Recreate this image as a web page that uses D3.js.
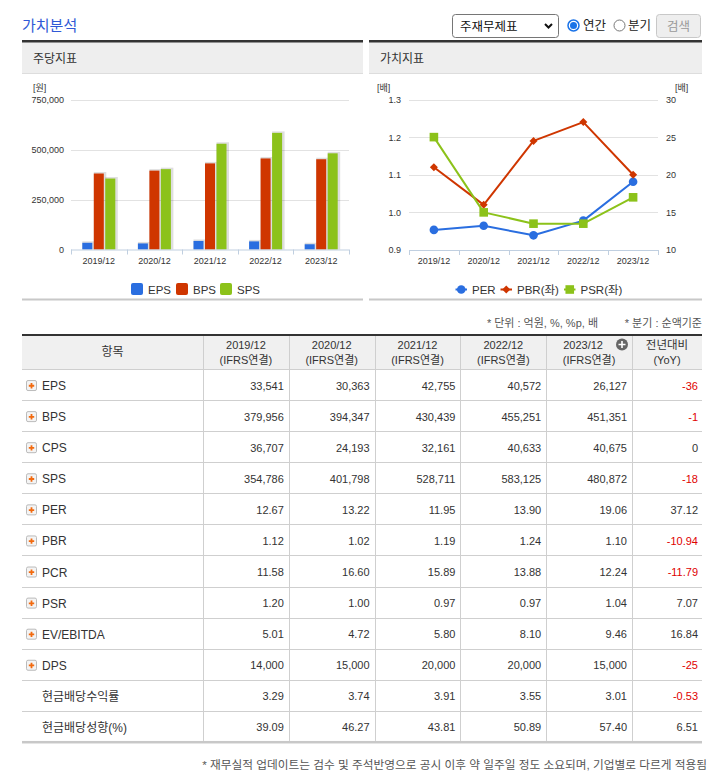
<!DOCTYPE html>
<meta charset="utf-8">
<style>
body { margin: 0; background: #fff; }
svg text { font-family: "Liberation Sans", "Noto Sans CJK KR", sans-serif; }
</style>
<body id="page"></body>
<script src="https://cdn.jsdelivr.net/npm/d3@7"></script>
<script>
// data
var years = ["2019/12", "2020/12", "2021/12", "2022/12", "2023/12"];
var eps = [33541, 30363, 42755, 40572, 26127];
var bps = [379956, 394347, 430439, 455251, 451351];
var sps = [354786, 401798, 528711, 583125, 480872];
var per = [12.67, 13.22, 11.95, 13.90, 19.06];
var pbr = [1.12, 1.02, 1.19, 1.24, 1.10];
var psr = [1.20, 1.00, 0.97, 0.97, 1.04];

var barTicks = [0, 250000, 500000, 750000];
var leftTicks = [0.9, 1.0, 1.1, 1.2, 1.3];
var rightTicks = [10, 15, 20, 25, 30];

var rowLabels = ["EPS", "BPS", "CPS", "SPS", "PER", "PBR", "PCR", "PSR", "EV/EBITDA", "DPS", "현금배당수익률", "현금배당성향(%)"];
var rowIcon = [1, 1, 1, 1, 1, 1, 1, 1, 1, 1, 0, 0];
var rowValues = [
  ["33,541", "30,363", "42,755", "40,572", "26,127"],
  ["379,956", "394,347", "430,439", "455,251", "451,351"],
  ["36,707", "24,193", "32,161", "40,633", "40,675"],
  ["354,786", "401,798", "528,711", "583,125", "480,872"],
  ["12.67", "13.22", "11.95", "13.90", "19.06"],
  ["1.12", "1.02", "1.19", "1.24", "1.10"],
  ["11.58", "16.60", "15.89", "13.88", "12.24"],
  ["1.20", "1.00", "0.97", "0.97", "1.04"],
  ["5.01", "4.72", "5.80", "8.10", "9.46"],
  ["14,000", "15,000", "20,000", "20,000", "15,000"],
  ["3.29", "3.74", "3.91", "3.55", "3.01"],
  ["39.09", "46.27", "43.81", "50.89", "57.40"]
];
var yoy = ["-36", "-1", "0", "-18", "37.12", "-10.94", "-11.79", "7.07", "16.84", "-25", "-0.53", "6.51"];

var blue = "#2a6ee0", red = "#cf3600", green = "#8cc21a";

var svg = d3.select("#page").append("svg")
    .attr("width", 710)
    .attr("height", 773);

// ---- page header ----
svg.append("text").attr("x", 22).attr("y", 31)
    .attr("font-size", 15).attr("fill", "#3059d6").text("가치분석");

svg.append("rect").attr("x", 452.5).attr("y", 14.5).attr("width", 106).attr("height", 23)
    .attr("rx", 3).attr("fill", "#fff").attr("stroke", "#767676");
svg.append("text").attr("x", 460).attr("y", 30.5).attr("font-size", 12.5).attr("fill", "#111").text("주재무제표");
svg.append("path").attr("d", "M545,24 l3.5,3.5 l3.5,-3.5").attr("fill", "none")
    .attr("stroke", "#111").attr("stroke-width", 2);

svg.append("circle").attr("cx", 573.5).attr("cy", 25.5).attr("r", 5.5)
    .attr("fill", "#fff").attr("stroke", "#1a73e8").attr("stroke-width", 1.5);
svg.append("circle").attr("cx", 573.5).attr("cy", 25.5).attr("r", 3.5).attr("fill", "#1a73e8");
svg.append("text").attr("x", 583).attr("y", 30).attr("font-size", 12.5).attr("fill", "#222").text("연간");
svg.append("circle").attr("cx", 619.5).attr("cy", 25.5).attr("r", 5.5)
    .attr("fill", "#fff").attr("stroke", "#777").attr("stroke-width", 1);
svg.append("text").attr("x", 628).attr("y", 30).attr("font-size", 12.5).attr("fill", "#222").text("분기");

svg.append("rect").attr("x", 656.5).attr("y", 14.5).attr("width", 44).attr("height", 23)
    .attr("rx", 3).attr("fill", "#eee").attr("stroke", "#c8c8c8");
svg.append("text").attr("x", 678.5).attr("y", 30.5).attr("text-anchor", "middle")
    .attr("font-size", 12.5).attr("fill", "#999").text("검색");

// ---- panels ----
var panels = [{x0: 22, x1: 363, title: "주당지표"}, {x0: 369, x1: 702, title: "가치지표"}];
panels.forEach(function (p) {
  svg.append("rect").attr("x", p.x0).attr("y", 42).attr("width", p.x1 - p.x0).attr("height", 31).attr("fill", "#eeeeee");
  svg.append("rect").attr("x", p.x0).attr("y", 40).attr("width", p.x1 - p.x0).attr("height", 2.5).attr("fill", "#333");
  svg.append("rect").attr("x", p.x0).attr("y", 73).attr("width", p.x1 - p.x0).attr("height", 1).attr("fill", "#ddd");
  svg.append("rect").attr("x", p.x0).attr("y", 298.5).attr("width", p.x1 - p.x0).attr("height", 2).attr("fill", "#c8c8c8");
  svg.append("text").attr("x", p.x0 + 11).attr("y", 62.5).attr("font-size", 12).attr("fill", "#333").text(p.title);
});

// ---- bar chart ----
var xb = d3.scaleBand().domain(years).range([71, 349]);
var yb = d3.scaleLinear().domain([0, 750000]).range([249.5, 99.5]);
var series = [{name: "EPS", vals: eps, color: blue}, {name: "BPS", vals: bps, color: red}, {name: "SPS", vals: sps, color: green}];
var xin = d3.scaleBand().domain(series.map(function (s) { return s.name; })).range([-16.5, 16.5]).paddingInner(0.13);

var gb = svg.append("g");
gb.append("g").selectAll("line").data(barTicks.slice(1)).enter().append("line")
    .attr("x1", 71).attr("x2", 349)
    .attr("y1", function (d) { return Math.round(yb(d)) + 0.5; })
    .attr("y2", function (d) { return Math.round(yb(d)) + 0.5; })
    .attr("stroke", "#e2e2e2");

var yAxisB = d3.axisLeft(yb).tickValues(barTicks).tickSize(0).tickPadding(0).tickFormat(d3.format(","));
gb.append("g").attr("transform", "translate(64,0)").call(yAxisB)
    .call(function (g) { g.select(".domain").remove(); })
    .selectAll("text").attr("font-size", 9).attr("fill", "#333");
gb.append("text").attr("x", 33).attr("y", 91).attr("font-size", 9).attr("fill", "#333").text("[원]");

series.forEach(function (s) {
  var g = gb.append("g");
  g.selectAll(".shadow").data(s.vals).enter().append("rect")
      .attr("x", function (d, i) { return xb(years[i]) + xb.bandwidth() / 2 + xin(s.name); })
      .attr("y", function (d) { return yb(d) - 1.5; })
      .attr("width", xin.bandwidth() + 2.5)
      .attr("height", function (d) { return yb(0) - yb(d) + 1.5; })
      .attr("fill", "#000").attr("opacity", 0.13);
  g.selectAll(".bar").data(s.vals).enter().append("rect")
      .attr("x", function (d, i) { return xb(years[i]) + xb.bandwidth() / 2 + xin(s.name); })
      .attr("y", function (d) { return yb(d); })
      .attr("width", xin.bandwidth())
      .attr("height", function (d) { return yb(0) - yb(d); })
      .attr("fill", s.color);
});

function categoryAxis(g, x, y0) {
  g.append("line").attr("x1", x.range()[0]).attr("x2", x.range()[1])
      .attr("y1", y0 + 0.5).attr("y2", y0 + 0.5).attr("stroke", "#c0cfe0");
  var edges = x.domain().map(function (d) { return x(d); }).concat([x.range()[1]]);
  g.selectAll(".tk").data(edges).enter().append("line")
      .attr("x1", function (d) { return Math.round(d) + 0.5; })
      .attr("x2", function (d) { return Math.round(d) + 0.5; })
      .attr("y1", y0).attr("y2", y0 + 5).attr("stroke", "#c0cfe0");
  g.selectAll(".lb").data(x.domain()).enter().append("text")
      .attr("x", function (d) { return x(d) + x.bandwidth() / 2; })
      .attr("y", y0 + 14).attr("text-anchor", "middle")
      .attr("font-size", 9).attr("fill", "#333").text(function (d) { return d; });
}
categoryAxis(gb, xb, 249.5);

// bar legend
var legB = gb.append("g");
var legBx = [131, 176, 220];
series.forEach(function (s, i) {
  legB.append("rect").attr("x", legBx[i]).attr("y", 283).attr("width", 12).attr("height", 12)
      .attr("rx", 2).attr("fill", s.color);
  legB.append("text").attr("x", legBx[i] + 17).attr("y", 293.5).attr("font-size", 11.5)
      .attr("fill", "#333").text(s.name);
});

// ---- line chart ----
var xl = d3.scaleBand().domain(years).range([409, 658]);
var yL = d3.scaleLinear().domain([0.9, 1.3]).range([250, 99.5]);
var yR = d3.scaleLinear().domain([10, 30]).range([250, 99.5]);
var gl = svg.append("g");

gl.append("g").selectAll("line").data(leftTicks.slice(1)).enter().append("line")
    .attr("x1", 409).attr("x2", 658)
    .attr("y1", function (d) { return Math.round(yL(d)) + 0.5; })
    .attr("y2", function (d) { return Math.round(yL(d)) + 0.5; })
    .attr("stroke", "#e2e2e2");
gl.append("g").attr("transform", "translate(401,0)")
    .call(d3.axisLeft(yL).tickValues(leftTicks).tickSize(0).tickPadding(0).tickFormat(d3.format(".1f")))
    .call(function (g) { g.select(".domain").remove(); })
    .selectAll("text").attr("font-size", 9).attr("fill", "#333");
gl.append("g").attr("transform", "translate(666,0)")
    .call(d3.axisRight(yR).tickValues(rightTicks).tickSize(0).tickPadding(0))
    .call(function (g) { g.select(".domain").remove(); })
    .selectAll("text").attr("font-size", 9).attr("fill", "#333");
gl.append("text").attr("x", 377).attr("y", 91).attr("font-size", 9).attr("fill", "#333").text("[배]");
gl.append("text").attr("x", 675).attr("y", 91).attr("font-size", 9).attr("fill", "#333").text("[배]");
categoryAxis(gl, xl, 250);

function cx(i) { return xl(years[i]) + xl.bandwidth() / 2; }
var lineSeries = [
  {name: "PER", vals: per, y: yR, color: blue, mark: "circle"},
  {name: "PBR(좌)", vals: pbr, y: yL, color: red, mark: "diamond"},
  {name: "PSR(좌)", vals: psr, y: yL, color: green, mark: "square"}
];
function drawMark(g, type, x, y, color) {
  if (type === "circle") {
    g.append("circle").attr("cx", x).attr("cy", y).attr("r", 4.3).attr("fill", color);
  } else if (type === "diamond") {
    g.append("path").attr("d", "M" + x + "," + (y - 4) + "l4,4l-4,4l-4,-4z").attr("fill", color);
  } else {
    g.append("rect").attr("x", x - 4.3).attr("y", y - 4.3).attr("width", 8.6).attr("height", 8.6).attr("fill", color);
  }
}
lineSeries.forEach(function (s) {
  var line = d3.line().x(function (d, i) { return cx(i); }).y(function (d) { return s.y(d); });
  var g = gl.append("g");
  g.append("path").datum(s.vals).attr("d", line).attr("fill", "none")
      .attr("stroke", s.color).attr("stroke-width", 2).attr("stroke-linejoin", "round");
  s.vals.forEach(function (v, i) { drawMark(g, s.mark, cx(i), s.y(v), s.color); });
});

// line legend
var legLx = [455.5, 500.5, 564];
lineSeries.forEach(function (s, i) {
  var g = gl.append("g");
  g.append("line").attr("x1", legLx[i]).attr("x2", legLx[i] + 11.5).attr("y1", 289.5).attr("y2", 289.5)
      .attr("stroke", s.color).attr("stroke-width", 2);
  drawMark(g, s.mark, legLx[i] + 5.75, 289.5, s.color);
  g.append("text").attr("x", legLx[i] + 16.5).attr("y", 294).attr("font-size", 11.5)
      .attr("fill", "#333").text(s.name);
});

// ---- table ----
svg.append("text").attr("x", 598).attr("y", 327).attr("text-anchor", "end")
    .attr("font-size", 11).attr("fill", "#555").text("* 단위 : 억원, %, %p, 배");
svg.append("text").attr("x", 702).attr("y", 327).attr("text-anchor", "end")
    .attr("font-size", 11).attr("fill", "#555").text("* 분기 : 순액기준");

var colEdges = [22, 203, 288.8, 374.6, 460.4, 546.2, 632, 702];
var headTop = 334, headBot = 369, rowH = 31.08;
var rowY = d3.scaleLinear().domain([0, rowLabels.length]).range([headBot, headBot + rowH * rowLabels.length]);
var tb = svg.append("g");

tb.append("rect").attr("x", 22).attr("y", headTop).attr("width", 680).attr("height", headBot - headTop).attr("fill", "#f0f0f0");
tb.append("rect").attr("x", 22).attr("y", headTop).attr("width", 680).attr("height", 2).attr("fill", "#333");

// horizontal rules
tb.selectAll(".hr").data(d3.range(0, rowLabels.length)).enter().append("line")
    .attr("x1", 22).attr("x2", 702)
    .attr("y1", function (d) { return Math.round(rowY(d)) + 0.5; })
    .attr("y2", function (d) { return Math.round(rowY(d)) + 0.5; })
    .attr("stroke", "#cfcfcf");
var tableBottom = rowY(rowLabels.length);
tb.append("rect").attr("x", 22).attr("y", tableBottom - 1).attr("width", 680).attr("height", 2.5).attr("fill", "#c8c8c8");
// vertical rules
tb.selectAll(".vr").data(colEdges.slice(1, -1)).enter().append("line")
    .attr("x1", function (d) { return Math.round(d) + 0.5; })
    .attr("x2", function (d) { return Math.round(d) + 0.5; })
    .attr("y1", headTop + 2).attr("y2", tableBottom - 1)
    .attr("stroke", "#cfcfcf");

// header text
function mid(c) { return (colEdges[c] + colEdges[c + 1]) / 2; }
tb.append("text").attr("x", mid(0)).attr("y", 356).attr("text-anchor", "middle")
    .attr("font-size", 12).attr("fill", "#333").text("항목");
years.forEach(function (y, i) {
  tb.append("text").attr("x", mid(i + 1) + (i === 4 ? -6 : 0)).attr("y", 349).attr("text-anchor", "middle")
      .attr("font-size", 11).attr("fill", "#333").text(y);
  tb.append("text").attr("x", mid(i + 1)).attr("y", 364).attr("text-anchor", "middle")
      .attr("font-size", 11).attr("fill", "#333").text("(IFRS연결)");
});
tb.append("circle").attr("cx", 622).attr("cy", 344.5).attr("r", 6).attr("fill", "#666");
tb.append("path").attr("d", "M618.5,344.5h7M622,341v7").attr("stroke", "#fff").attr("stroke-width", 1.6);
tb.append("text").attr("x", mid(6)).attr("y", 349).attr("text-anchor", "middle")
    .attr("font-size", 11.5).attr("fill", "#333").text("전년대비");
tb.append("text").attr("x", mid(6)).attr("y", 364).attr("text-anchor", "middle")
    .attr("font-size", 11).attr("fill", "#333").text("(YoY)");

// rows
var rows = tb.selectAll(".row").data(rowLabels).enter().append("g")
    .attr("transform", function (d, i) { return "translate(0," + (rowY(i) + rowH / 2 + 1) + ")"; });
rows.filter(function (d, i) { return rowIcon[i]; }).each(function () {
  var g = d3.select(this);
  g.append("rect").attr("x", 26.5).attr("y", -5).attr("width", 10).attr("height", 10).attr("rx", 1.5)
      .attr("fill", "#f4f4f4").attr("stroke", "#bbb");
  g.append("path").attr("d", "M28.8,0.2h5.4M31.5,-2.5v5.4").attr("stroke", "#f26a0f").attr("stroke-width", 1.8);
});
rows.append("text").attr("x", 42).attr("y", 4.5).attr("font-size", 12).attr("fill", "#333")
    .text(function (d) { return d; });
rows.each(function (d, r) {
  var g = d3.select(this);
  rowValues[r].forEach(function (v, c) {
    g.append("text").attr("x", colEdges[c + 2] - 5).attr("y", 4).attr("text-anchor", "end")
        .attr("font-size", 11).attr("fill", "#333").text(v);
  });
  g.append("text").attr("x", 698).attr("y", 4).attr("text-anchor", "end").attr("font-size", 11)
      .attr("fill", yoy[r].charAt(0) === "-" ? "#e00000" : "#333").text(yoy[r]);
});

svg.append("text").attr("x", 707).attr("y", 769).attr("text-anchor", "end")
    .attr("font-size", 11.7).attr("fill", "#555")
    .text("* 재무실적 업데이트는 검수 및 주석반영으로 공시 이후 약 일주일 정도 소요되며, 기업별로 다르게 적용됨");
</script>
